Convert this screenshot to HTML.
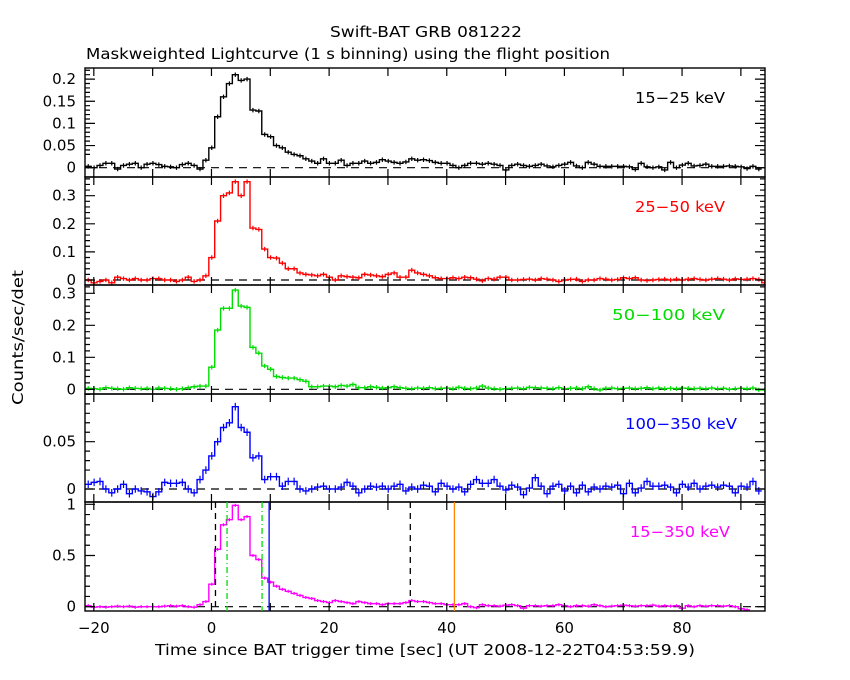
<!DOCTYPE html>
<html><head><meta charset="utf-8"><style>
html,body{margin:0;padding:0;background:#fff;}
svg{display:block;font-family:"DejaVu Sans","Liberation Sans",sans-serif;}
</style></head><body>
<svg id="chart" width="850" height="680" viewBox="0 0 850 680">
<rect width="850" height="680" fill="#fff"/>
<text x="330" y="37" font-size="15" textLength="192" lengthAdjust="spacingAndGlyphs">Swift-BAT GRB 081222</text>
<text x="86" y="59" font-size="15" textLength="524" lengthAdjust="spacingAndGlyphs">Maskweighted Lightcurve (1 s binning) using the flight position</text>
<text transform="translate(23,405) rotate(-90)" font-size="15" textLength="135" lengthAdjust="spacingAndGlyphs">Counts/sec/det</text>
<text x="155" y="655" font-size="15" textLength="540" lengthAdjust="spacingAndGlyphs">Time since BAT trigger time [sec] (UT 2008-12-22T04:53:59.9)</text>
<g id="plot"></g>
</svg>
<script>
const binStart = -21.45;
const xTicks = [-20, 0, 20, 40, 60, 80];
const p1 = [0.003,0.0,0.005,0.01,0.01,-0.003,0.005,0.008,0.01,0.0,0.008,0.01,0.007,0.003,0.002,0.0,0.007,0.01,0.005,-0.003,
0.017,0.045,0.115,0.16,0.19,0.21,0.197,0.2,0.13,0.128,0.075,0.07,0.05,0.045,0.035,0.03,0.027,0.02,0.015,0.01,0.02,0.01,0.01,0.017,0.005,0.01,
0.01,0.015,0.01,0.012,0.018,0.015,0.012,0.01,0.013,0.02,0.017,0.018,0.016,0.012,0.01,0.01,0.005,0.0,0.005,0.01,0.01,0.008,0.01,0.008,0.005,-0.005,0.005,0.008,0.005,0.003,0.005,0.008,0.004,0.002,0.005,0.008,0.012,0.004,0.0,0.012,0.008,0.003,0.003,0.003,0.003,0.003,0.002,-0.004,0.01,0.002,0.0,0.002,-0.005,0.012,0.0,0.006,0.01,0.004,0.005,0.008,0.003,0.003,0.003,0.004,0.003,0.002,-0.002,0.003,-0.003];
const p2 = [0.0,-0.01,-0.005,0.0,-0.01,0.01,0.005,0.0,0.005,0.0,0.0,0.005,0.005,0.0,0.0,-0.005,0.0,0.01,-0.005,0.0,
0.015,0.08,0.21,0.30,0.31,0.35,0.30,0.35,0.185,0.18,0.11,0.08,0.078,0.06,0.04,0.04,0.025,0.02,0.018,0.015,0.02,0.01,0.0,0.015,0.012,0.01,
0.008,0.02,0.018,0.015,0.012,0.02,0.025,0.01,0.01,0.035,0.025,0.02,0.015,0.008,0.005,0.005,0.008,0.005,0.01,0.008,0.003,-0.003,0.005,0.003,0.01,0.01,0.0,0.0,0.002,0.003,0.0,0.005,0.003,0.0,-0.005,0.0,0.002,0.003,-0.005,0.0,0.0,0.005,0.003,0.0,0.002,0.008,0.005,0.008,0.0,-0.002,0.0,0.002,0.003,0.0,0.003,0.0,0.003,0.005,0.002,0.0,0.003,0.005,0.003,0.0,0.004,0.002,0.003,0.005,0.002,-0.01];
const p3 = [0.003,0.002,0.0,0.005,0.003,0.002,0.0,0.005,0.003,0.002,0.003,0.0,0.004,0.003,0.002,0.0,0.002,0.005,0.008,0.01,
0.01,0.069,0.185,0.253,0.253,0.31,0.26,0.256,0.131,0.113,0.073,0.0625,0.04,0.037,0.035,0.035,0.03,0.025,0.008,0.008,0.01,0.01,0.008,0.012,0.01,0.015,0.005,0.005,
0.008,0.006,0.004,0.005,0.008,0.005,0.003,0.002,0.004,0.003,0.005,0.002,0.003,0.004,0.002,0.006,0.003,0.002,0.004,0.01,0.004,0.002,0.0,0.002,0.003,0.004,0.002,0.006,0.005,0.004,0.003,0.002,0.005,0.002,0.003,0.004,0.002,0.008,0.002,-0.002,0.003,0.004,0.002,0.003,0.004,0.002,0.003,0.005,0.002,0.004,0.002,0.003,0.002,0.004,0.003,0.002,0.003,0.002,0.004,0.002,0.003,0.0,0.002,0.003,0.002,0.004,-0.002,-0.002];
const p4 = [0.005,0.007,0.008,0.0,-0.004,0.0,0.005,-0.005,0.0,-0.002,-0.003,-0.008,-0.003,0.007,0.006,0.006,0.007,0.0,-0.004,0.01,
0.02,0.035,0.05,0.065,0.07,0.087,0.065,0.06,0.033,0.035,0.01,0.013,0.013,0.003,0.008,0.008,0.0,-0.002,0.0,0.002,0.003,0.0,0.0,0.002,0.007,0.003,-0.004,
0.0,0.003,0.002,0.003,0.0,0.003,0.005,-0.002,0.002,0.0,0.004,0.003,-0.003,0.006,0.003,0.0,0.002,-0.003,0.005,0.01,0.006,0.006,0.01,0.003,-0.001,0.004,0.002,-0.006,0.001,0.012,0.003,-0.005,0.003,0.005,-0.002,0.003,-0.004,0.004,-0.003,0.002,0.0,0.003,0.002,0.004,-0.005,0.006,-0.004,0.001,0.008,0.003,0.003,0.004,0.002,-0.004,0.005,0.002,0.006,0.0,0.003,0.004,0.002,0.004,0.003,-0.004,0.003,0.002,0.008,-0.002];
const p5 = [0.01,-0.005,0.0,-0.005,0.0,0.005,0.0,0.005,-0.005,0.0,0.0,0.0,0.0,0.005,0.01,0.005,0.01,0.0,-0.005,0.02,
0.05,0.22,0.56,0.80,0.85,0.99,0.85,0.88,0.5,0.46,
0.28,0.24,0.2,0.17,0.15,0.13,0.11,0.09,0.08,0.06,0.05,0.04,0.06,0.05,0.04,0.03,0.05,0.04,0.03,0.03,0.02,0.03,0.03,0.03,0.04,0.06,
0.05,0.05,0.04,0.03,0.03,0.02,0.02,0.02,0.03,0.0,-0.01,0.02,0.01,0.01,0.005,0.015,0.02,0.01,-0.015,0.01,0.01,0.005,0.01,0.01,0.02,0.01,0.0,0.01,0.01,0.005,0.02,0.01,0.0,0.005,0.01,0.015,0.01,0.005,0.01,0.01,0.015,0.005,0.01,0.005,0.01,-0.015,0.01,0.0,0.01,0.005,0.01,0.01,0.005,0.01,0.0,-0.02,-0.03];
const labels = ["15\u221225 keV","25\u221250 keV","50\u2212100 keV","100\u2212350 keV","15\u2212350 keV"];
const p1Ticks=["0","0.05","0.1","0.15","0.2"], p2Ticks=["0","0.1","0.2","0.3"], p3Ticks=["0","0.1","0.2","0.3"], p4Ticks=["0","0.05"], p5Ticks=["0","0.5","1"];
const vLines=[0.68,2.65,8.6,9.8,33.8,41.3];

const X0=85,X1=765,T0=-21.5,T1=94.1;
function xs(t){return X0+(t-T0)/(T1-T0)*(X1-X0);}
const labelPos=[[635,90],[635,90],[612,113],[625,112],[630,100]];
const panels=[
 {d:p1,top:68,bot:177,zero:167.7,ppu:443,col:"#000",ticks:p1Ticks,minor:0.01,err:0.005,name:"15-25"},
 {d:p2,top:177,bot:285,zero:280,ppu:281,col:"#f00",ticks:p2Ticks,minor:0.02,err:0.008,name:"25-50"},
 {d:p3,top:285,bot:394,zero:389.3,ppu:320,col:"#0d0",ticks:p3Ticks,minor:0.02,err:0.007,name:"50-100"},
 {d:p4,top:394,bot:502,zero:489,ppu:946,col:"#00f",ticks:p4Ticks,minor:0.01,err:0.004,name:"100-350"},
 {d:p5,top:502,bot:611,zero:606.7,ppu:102.4,col:"#f0f",ticks:p5Ticks,minor:0.1,err:0.015,name:"15-350"}];
const NS="http://www.w3.org/2000/svg";
const plot=document.getElementById('plot');
function mk(tag,attrs,parent){const e=document.createElementNS(NS,tag);for(const k in attrs)e.setAttribute(k,attrs[k]);(parent||plot).appendChild(e);return e;}
panels.forEach((p,pi)=>{
 const g=mk('g',{});
 
 
 const ys=v=>p.zero-v*p.ppu;
 const z=mk('line',{x1:X0,x2:X1,y1:p.zero,y2:p.zero,stroke:"#000","stroke-width":1.2,"stroke-dasharray":"8,6"},g);
 
 
 let d="";
 p.d.forEach((v,i)=>{const xa=xs(binStart+i),xb=xs(binStart+i+1);if(xa>=X1)return;const y=ys(v);d+=(i===0?"M"+Math.max(X0,xa)+","+y:"L"+xa+","+y)+"L"+Math.min(X1,xb)+","+y;});
 const s=mk('path',{d:d,fill:"none",stroke:p.col,"stroke-width":1.4},g);
 
 
 let ed="";
 p.d.forEach((v,i)=>{const xc=xs(binStart+i+0.5);if(xc>X1||xc<X0)return;ed+="M"+xc+","+ys(v+p.err)+"L"+xc+","+ys(v-p.err);});
 const e=mk('path',{d:ed,stroke:p.col,"stroke-width":1.2},g);
 
 
 mk('rect',{x:X0,y:p.top,width:X1-X0,height:p.bot-p.top,fill:"none",stroke:"#000","stroke-width":1.4},g);
 let td="";
 for(let t=-20;t<=90;t+=10){const x=xs(t);td+="M"+x+","+p.top+"v8M"+x+","+p.bot+"v-8";}
 const vmin=(p.zero-p.bot)/p.ppu*-1, vmax=(p.zero-p.top)/p.ppu;
 for(let k=Math.ceil(vmin/p.minor);k*p.minor<=vmax;k++){const y=ys(k*p.minor);td+="M"+X0+","+y+"h5M"+X1+","+y+"h-5";}
 p.ticks.forEach(t=>{const y=ys(parseFloat(t));td+="M"+X0+","+y+"h10M"+X1+","+y+"h-10";
  const tl=mk('text',{x:76,y:y+5,"text-anchor":"end","font-size":15},g);tl.textContent=t;
  
  });
 mk('path',{d:td,stroke:"#000","stroke-width":1.2,fill:"none"},g);
 const lb=mk('text',{x:labelPos[pi][0],y:p.top+35,"font-size":15,fill:p.col,textLength:labelPos[pi][1],lengthAdjust:"spacingAndGlyphs"},g);
 lb.textContent=labels[pi];
 
 
 if(pi===4){
  const styles=[["#000","6,5"],["#0d0","6,3,1,3"],["#0d0","6,3,1,3"],["#00f",""],["#000","6,5"],["#f80",""]];
  vLines.forEach((t,k)=>{const l=mk('line',{x1:xs(t),x2:xs(t),y1:p.top,y2:p.bot,stroke:styles[k][0],"stroke-width":1.3,"stroke-dasharray":styles[k][1]},g);
   
   });
  xTicks.forEach(t=>{const xl=mk('text',{x:xs(t),y:633,"text-anchor":"middle","font-size":15},g);xl.textContent=(t<0?"\u2212"+(-t):t);
   
   });
 }
});
</script>
</body></html>
